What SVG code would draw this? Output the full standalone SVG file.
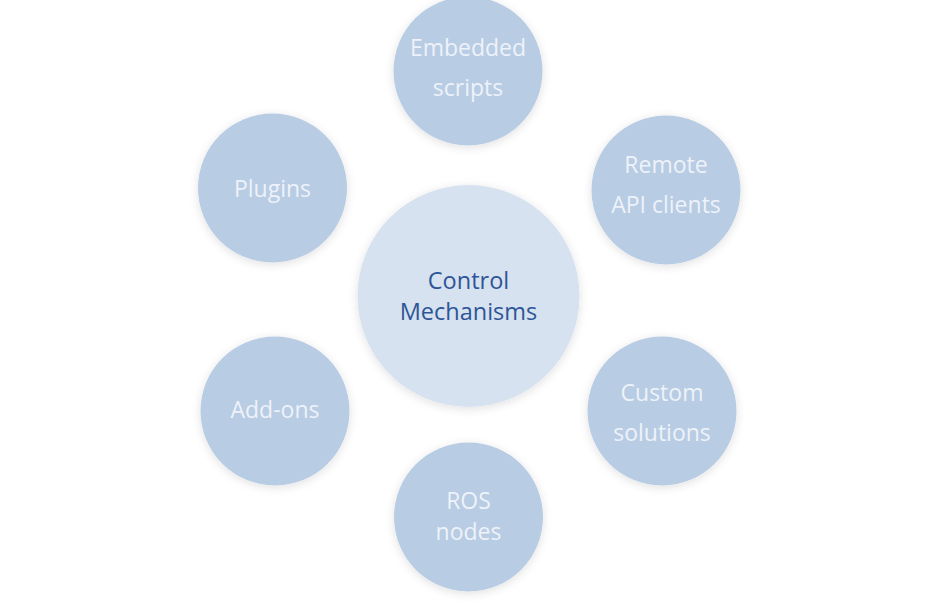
<svg xmlns="http://www.w3.org/2000/svg" width="940" height="606" viewBox="0 0 940 606">
<defs>
<filter id="sh" x="-30%" y="-30%" width="160%" height="160%">
<feDropShadow dx="0" dy="2" stdDeviation="5" flood-color="#000" flood-opacity="0.12"/>
</filter>
<style>
.o{fill:#b8cce4;filter:url(#sh)}
.c{fill:#d6e2ef;filter:url(#sh)}
.t{font-family:"Open Sans","Liberation Sans",sans-serif;font-size:23px;fill:#eef2f9;text-anchor:middle}
.ct{font-family:"Open Sans","Liberation Sans",sans-serif;font-size:23.5px;fill:#2e5597;text-anchor:middle}
</style>
</defs>
<rect width="940" height="606" fill="#ffffff"/>
<g id="connectors"></g>
<g id="center">
<circle class="c" cx="468.5" cy="296" r="111"/>
<text class="ct" x="468.5" y="289">Control</text>
<text class="ct" x="468.5" y="320">Mechanisms</text>
</g>
<g id="embedded">
<circle class="o" cx="468" cy="71" r="74.5"/>
<text class="t" x="468" y="56">Embedded</text>
<text class="t" x="468" y="96">scripts</text>
</g>
<g id="remote">
<circle class="o" cx="666" cy="190" r="74.5"/>
<text class="t" x="666" y="173">Remote</text>
<text class="t" x="666" y="213">API clients</text>
</g>
<g id="plugins">
<circle class="o" cx="272.5" cy="188" r="74.5"/>
<text class="t" x="272.5" y="197">Plugins</text>
</g>
<g id="addons">
<circle class="o" cx="275" cy="411" r="74.5"/>
<text class="t" x="275" y="418">Add-ons</text>
</g>
<g id="custom">
<circle class="o" cx="662" cy="411" r="74.5"/>
<text class="t" x="662" y="401">Custom</text>
<text class="t" x="662" y="441">solutions</text>
</g>
<g id="ros">
<circle class="o" cx="468.5" cy="517" r="74.5"/>
<text class="t" x="468.5" y="509">ROS</text>
<text class="t" x="468.5" y="540">nodes</text>
</g>
</svg>
